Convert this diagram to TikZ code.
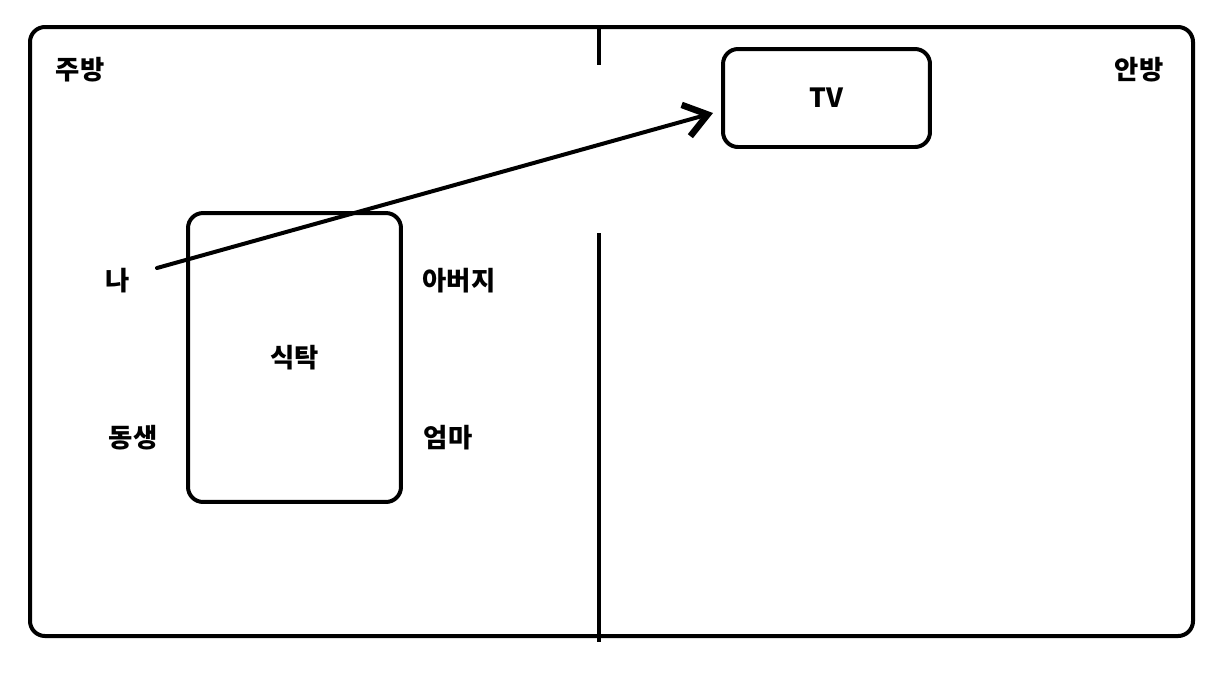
\documentclass[tikz,border=0pt]{standalone}
\usepackage{fontspec}
\setmainfont{Noto Sans CJK KR}
\usetikzlibrary{arrows.meta, positioning}

\begin{document}
\begin{tikzpicture}[
    x=0.02cm, y=-0.02cm,
    wall/.style={line width=0.08cm},
    roombox/.style={draw, line width=0.08cm, rounded corners=0.3cm},
    furniture/.style={draw, line width=0.08cm, rounded corners=0.3cm, font=\fontsize{15}{18}\selectfont\bfseries},
    person/.style={font=\fontsize{15}{18}\selectfont\bfseries},
    arrow/.style={-{Straight Barb[length=4.5mm, width=6.5mm, line width=0.13cm]}, line width=0.08cm, line cap=round}
]
    \useasboundingbox (0,0) rectangle (1223,674);

    % rooms
    \draw[roombox] (30,27) rectangle (1193,636);
    \draw[wall] (599,27) -- (599,65);
    \draw[wall] (599,233) -- (599,642);
    \node[person] (kitchen) at (80,70) {주방};
    \node[person] (room) at (1139,70) {안방};

    % furniture
    \node[furniture, minimum width=4.26cm, minimum height=5.78cm] (table) at (294.5,357.5) {식탁};
    \node[furniture, minimum width=4.14cm, minimum height=1.96cm] (tv) at (826.5,98) {TV};

    % family
    \node[person] (me) at (118,281) {나};
    \node[person] (dad) at (459,281) {아버지};
    \node[person] (sibling) at (133,438) {동생};
    \node[person] (mom) at (448,438) {엄마};

    \coordinate (gazefrom) at (157,268);
    \coordinate (gazeto) at (713,113);
    \draw[arrow] (gazefrom) -- (gazeto);
\end{tikzpicture}
\end{document}
